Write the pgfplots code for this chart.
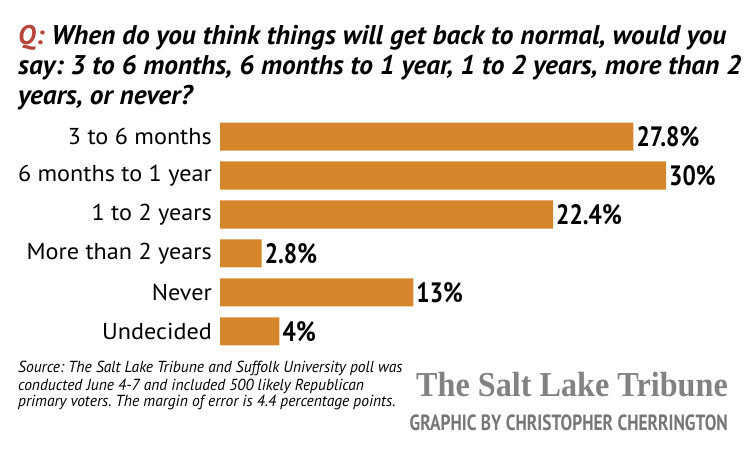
\documentclass[border=0pt]{standalone}
\usepackage{fontspec}
\usepackage{pgfplots}
\pgfplotsset{compat=1.18}
\setmainfont[FakeStretch=0.84]{PT Sans}
\newfontfamily\titlefont[FakeStretch=1.012]{PT Sans}
\newfontfamily\catfont[FakeStretch=1.05]{PT Sans}
\newfontfamily\srcfont[FakeStretch=0.97]{PT Sans}
\newfontfamily\credfont[FakeStretch=0.79]{PT Sans}
\newfontfamily\logofont[FakeStretch=0.92]{Liberation Serif}
\definecolor{barorange}{RGB}{214,134,42}
\definecolor{qred}{RGB}{181,70,58}
\definecolor{logogray}{RGB}{130,130,130}
\definecolor{credgray}{RGB}{118,118,118}
\frenchspacing
\begin{document}
\begin{tikzpicture}[x=1bp,y=1bp]
\path[use as bounding box] (0,0) rectangle (750,-449);
\node[anchor=base west, inner sep=0pt, font=\fontsize{27bp}{30bp}\selectfont\titlefont\bfseries\itshape] at (18,-45) {\textcolor{qred}{Q:} When do you think things will get back to normal, would you};
\node[anchor=base west, inner sep=0pt, font=\fontsize{27bp}{30bp}\selectfont\titlefont\bfseries\itshape] at (18,-75) {say: 3 to 6 months, 6 months to 1 year, 1 to 2 years, more than 2};
\node[anchor=base west, inner sep=0pt, font=\fontsize{27bp}{30bp}\selectfont\titlefont\bfseries\itshape] at (18,-105) {years, or never?};
\begin{axis}[
  at={(220bp,-117bp)}, anchor=north west,
  scale only axis, width=446bp, height=234bp,
  xmin=0, xmax=30, ymin=-0.5, ymax=5.5, y dir=reverse,
  enlargelimits=false, clip=false,
  xbar, bar width=28bp, bar shift=0pt,
  axis line style={draw=none}, major tick length=0pt,
  xtick=\empty, ytick={0,1,2,3,4,5},
  yticklabels={3 to 6 months,6 months to 1 year,1 to 2 years,More than 2 years,Never,Undecided},
  yticklabel style={font=\fontsize{23bp}{26bp}\selectfont\catfont, anchor=east, inner sep=0pt, xshift=-8bp},
  point meta=explicit symbolic,
  nodes near coords,
  nodes near coords style={font=\fontsize{28bp}{30bp}\selectfont\bfseries, anchor=west, inner sep=0pt, xshift=3bp, text=black},
]
\addplot[fill=barorange, draw=none] coordinates {
  (27.8,0) [27.8\%]
  (30,1) [30\%]
  (22.4,2) [22.4\%]
  (2.8,3) [2.8\%]
  (13,4) [13\%]
  (4,5) [4\%]
};
\end{axis}
\node[anchor=base west, inner sep=0pt, font=\fontsize{16bp}{17bp}\selectfont\srcfont\itshape] at (18,-373) {Source: The Salt Lake Tribune and Suffolk University poll was};
\node[anchor=base west, inner sep=0pt, font=\fontsize{16bp}{17bp}\selectfont\srcfont\itshape] at (18,-390) {conducted June 4-7 and included 500 likely Republican};
\node[anchor=base west, inner sep=0pt, font=\fontsize{16bp}{17bp}\selectfont\srcfont\itshape] at (18,-406) {primary voters. The margin of error is 4.4 percentage points.};
\node[anchor=base east, inner sep=0pt, text=logogray, font=\fontsize{35bp}{38bp}\selectfont\logofont\bfseries] at (728,-396) {The Salt Lake Tribune};
\node[anchor=base east, inner sep=0pt, text=credgray, font=\fontsize{22bp}{24bp}\selectfont\credfont\bfseries] at (728,-430) {GRAPHIC BY CHRISTOPHER CHERRINGTON};
\end{tikzpicture}
\end{document}
